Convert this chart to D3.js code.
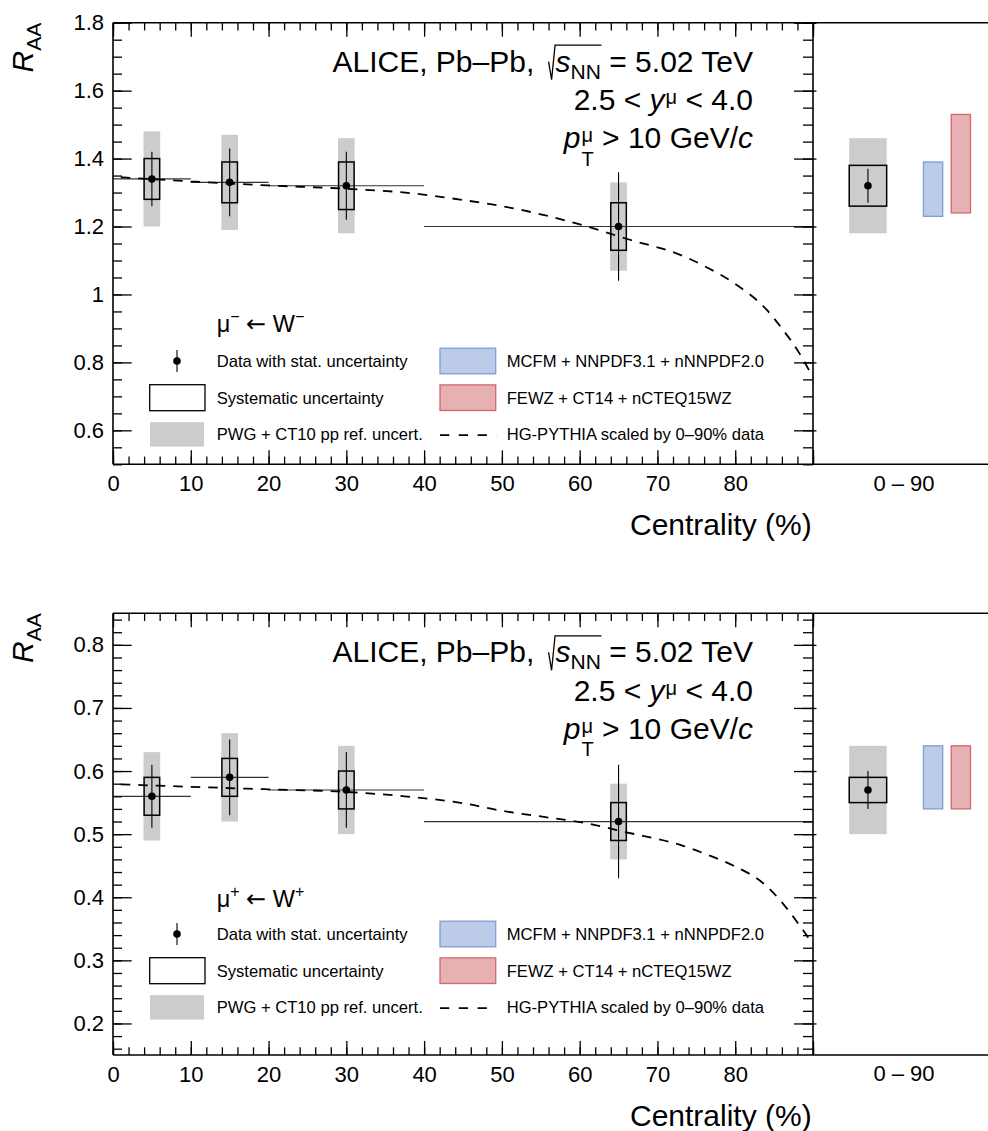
<!DOCTYPE html>
<html>
<head>
<meta charset="utf-8">
<script src="https://cdn.jsdelivr.net/npm/d3@7"></script>
<style>
  body { margin: 0; background: #fff; }
  text { white-space: pre; }
</style>
</head>
<body>
<script>
const FONT = "'Liberation Sans', Arial, Helvetica, sans-serif";

// centrality classes (%)
const centBins = [[0, 10], [10, 20], [20, 40], [40, 90]];
const centMid = [5, 15, 30, 65];

// mu- <- W-
const wmVal = [1.34, 1.33, 1.32, 1.20];
const wmStatLo = [1.26, 1.23, 1.22, 1.04];
const wmStatHi = [1.42, 1.43, 1.42, 1.36];
const wmSysLo = [1.28, 1.27, 1.25, 1.13];
const wmSysHi = [1.40, 1.39, 1.39, 1.27];
const wmRefLo = [1.20, 1.19, 1.18, 1.07];
const wmRefHi = [1.48, 1.47, 1.46, 1.33];
// 0-90% integrated: value, stat lo/hi, syst lo/hi, ref lo/hi
const wmInt = [1.32, 1.27, 1.37, 1.26, 1.38, 1.18, 1.46];
const wmMcfm = [1.23, 1.39];
const wmFewz = [1.24, 1.53];
// HG-PYTHIA curve
const hgCent = [1, 10, 20, 30, 37, 45, 50, 55, 60.5, 66, 73.3, 76.5, 79.8, 84, 86, 88.3, 90];
const wmHg = [1.345, 1.333, 1.321, 1.311, 1.301, 1.278, 1.26, 1.236, 1.203, 1.164, 1.113, 1.078, 1.034, 0.956, 0.90, 0.825, 0.755];

// mu+ <- W+
const wpVal = [0.56, 0.59, 0.57, 0.52];
const wpStatLo = [0.51, 0.53, 0.51, 0.43];
const wpStatHi = [0.61, 0.65, 0.63, 0.61];
const wpSysLo = [0.53, 0.56, 0.54, 0.49];
const wpSysHi = [0.59, 0.62, 0.60, 0.55];
const wpRefLo = [0.49, 0.52, 0.50, 0.46];
const wpRefHi = [0.63, 0.66, 0.64, 0.58];
const wpInt = [0.57, 0.54, 0.60, 0.55, 0.59, 0.50, 0.64];
const wpMcfm = [0.54, 0.64];
const wpFewz = [0.54, 0.64];
const wpHg = [0.579, 0.575, 0.571, 0.567, 0.5605, 0.549, 0.537, 0.528, 0.518, 0.503, 0.4815, 0.467, 0.45, 0.418, 0.392, 0.355, 0.325];

const xTicks = [0, 10, 20, 30, 40, 50, 60, 70, 80, 90];
const rightLabel = "0 – 90";

const panels = [
  { top: 22.7, bottom: 464.3, yDomain: [0.5, 1.8], major: [0.6, 1.8, 0.2], minor: [0.5, 1.8, 0.05],
    val: wmVal, statLo: wmStatLo, statHi: wmStatHi, sysLo: wmSysLo, sysHi: wmSysHi, refLo: wmRefLo, refHi: wmRefHi,
    int: wmInt, mcfm: wmMcfm, fewz: wmFewz, hg: wmHg, charge: "−", legHead: 331.7, legRow: 361 },
  { top: 613.3, bottom: 1055, yDomain: [0.15, 0.85], major: [0.2, 0.8, 0.1], minor: [0.16, 0.84, 0.02],
    val: wpVal, statLo: wpStatLo, statHi: wpStatHi, sysLo: wpSysLo, sysHi: wpSysHi, refLo: wpRefLo, refHi: wpRefHi,
    int: wpInt, mcfm: wpMcfm, fewz: wpFewz, hg: wpHg, charge: "+", legHead: 906.7, legRow: 934 }
];

const GREY = "#cccccc";
const BLUE_FILL = "#bccbe7", BLUE_LINE = "#7f9ed6";
const RED_FILL = "#e7b0b3", RED_LINE = "#d2676d";

function steps(lo, hi, step) {
  const n = Math.round((hi - lo) / step);
  return d3.range(n + 1).map(i => +(lo + i * step).toFixed(6));
}

const svg = d3.select("body").append("svg")
  .attr("width", 988).attr("height", 1131)
  .attr("font-family", FONT);

function styleAxis(g, size) {
  g.select(".domain").remove();
  g.selectAll(".tick line").attr("stroke", "#000").attr("stroke-width", 1.3);
  g.selectAll("text").attr("font-family", FONT).attr("font-size", size).attr("fill", "#000");
}

function drawPanel(p) {
  const x = d3.scaleLinear().domain([0, 90]).range([113, 813]);
  const y = d3.scaleLinear().domain(p.yDomain).range([p.bottom, p.top]);
  const r = d3.scaleLinear().domain([0, 1]).range([813, 988]);
  const g = svg.append("g");
  const idx = d3.range(p.val.length);

  // pp reference uncertainty (grey)
  g.selectAll(null).data(idx).join("rect")
    .attr("x", i => x(centMid[i] - 1.07))
    .attr("width", i => x(centMid[i] + 1.07) - x(centMid[i] - 1.07))
    .attr("y", i => y(p.refHi[i]))
    .attr("height", i => y(p.refLo[i]) - y(p.refHi[i]))
    .attr("fill", GREY);

  // centrality bin widths
  g.selectAll(null).data(idx).join("line")
    .attr("x1", i => x(centBins[i][0])).attr("x2", i => x(centBins[i][1]))
    .attr("y1", i => y(p.val[i])).attr("y2", i => y(p.val[i]))
    .attr("stroke", "#333").attr("stroke-width", 1.2);

  // HG-PYTHIA
  const line = d3.line().x((d, i) => x(hgCent[i])).y(d => y(d)).curve(d3.curveMonotoneX);
  g.append("path").datum(p.hg)
    .attr("d", line).attr("fill", "none")
    .attr("stroke", "#000").attr("stroke-width", 1.8).attr("stroke-dasharray", "9.5,8");

  // systematic boxes
  g.selectAll(null).data(idx).join("rect")
    .attr("x", i => x(centMid[i] - 1))
    .attr("width", i => x(centMid[i] + 1) - x(centMid[i] - 1))
    .attr("y", i => y(p.sysHi[i]))
    .attr("height", i => y(p.sysLo[i]) - y(p.sysHi[i]))
    .attr("fill", "none").attr("stroke", "#000").attr("stroke-width", 1.5);

  // stat
  g.selectAll(null).data(idx).join("line")
    .attr("x1", i => x(centMid[i])).attr("x2", i => x(centMid[i]))
    .attr("y1", i => y(p.statLo[i])).attr("y2", i => y(p.statHi[i]))
    .attr("stroke", "#000").attr("stroke-width", 1.1);
  g.selectAll(null).data(idx).join("circle")
    .attr("cx", i => x(centMid[i])).attr("cy", i => y(p.val[i]))
    .attr("r", 3.8).attr("fill", "#000");

  // integrated 0-90%
  const [iv, isl, ish, iyl, iyh, irl, irh] = p.int;
  const ic = 0.314, ihw = 0.107;
  g.append("rect").attr("x", r(ic - ihw)).attr("width", r(ic + ihw) - r(ic - ihw))
    .attr("y", y(irh)).attr("height", y(irl) - y(irh)).attr("fill", GREY);
  g.append("rect").attr("x", r(ic - ihw)).attr("width", r(ic + ihw) - r(ic - ihw))
    .attr("y", y(iyh)).attr("height", y(iyl) - y(iyh))
    .attr("fill", "none").attr("stroke", "#000").attr("stroke-width", 1.5);
  g.append("line").attr("x1", r(ic)).attr("x2", r(ic)).attr("y1", y(isl)).attr("y2", y(ish))
    .attr("stroke", "#000").attr("stroke-width", 1.1);
  g.append("circle").attr("cx", r(ic)).attr("cy", y(iv)).attr("r", 3.8).attr("fill", "#000");

  const models = [[0.686, p.mcfm, BLUE_FILL, BLUE_LINE], [0.845, p.fewz, RED_FILL, RED_LINE]];
  g.selectAll(null).data(models).join("rect")
    .attr("x", d => r(d[0] - 0.055)).attr("width", d => r(d[0] + 0.055) - r(d[0] - 0.055))
    .attr("y", d => y(d[1][1])).attr("height", d => y(d[1][0]) - y(d[1][1]))
    .attr("fill", d => d[2]).attr("stroke", d => d[3]).attr("stroke-width", 1.3);

  // axes
  const majors = steps(...p.major), minors = steps(...p.minor);
  const fmt = v => String(+v.toFixed(2));
  g.append("g").attr("transform", "translate(113,0)")
    .call(d3.axisLeft(y).tickValues(minors).tickSizeInner(-9).tickSizeOuter(0).tickFormat(""))
    .call(a => styleAxis(a, 22));
  g.append("g").attr("transform", "translate(113,0)")
    .call(d3.axisLeft(y).tickValues(majors).tickSizeInner(-18.7).tickSizeOuter(0).tickPadding(9).tickFormat(fmt))
    .call(a => styleAxis(a, 22));
  g.append("g").attr("transform", "translate(813,0)")
    .call(d3.axisRight(y).tickValues(minors).tickSizeInner(-10).tickSizeOuter(0).tickFormat(""))
    .call(a => styleAxis(a, 22));
  g.append("g").attr("transform", "translate(813,0)")
    .call(d3.axisRight(y).tickValues(majors).tickSizeInner(-19).tickSizeOuter(0).tickFormat(""))
    .call(a => styleAxis(a, 22));
  g.append("g").attr("transform", "translate(813,0)")
    .call(d3.axisRight(y).tickValues(majors).tickSizeInner(3.5).tickSizeOuter(0).tickFormat(""))
    .call(a => styleAxis(a, 22));

  const xMinor = steps(0, 90, 2);
  g.append("g").attr("transform", `translate(0,${p.bottom})`)
    .call(d3.axisBottom(x).tickValues(xMinor).tickSizeInner(-7.7).tickSizeOuter(0).tickFormat(""))
    .call(a => styleAxis(a, 22));
  g.append("g").attr("transform", `translate(0,${p.bottom})`)
    .call(d3.axisBottom(x).tickValues(xTicks).tickSizeInner(-14).tickSizeOuter(0).tickPadding(11)
      .tickFormat(d => d === 90 ? "" : d))
    .call(a => styleAxis(a, 22));
  g.append("g").attr("transform", `translate(0,${p.top})`)
    .call(d3.axisTop(x).tickValues(xMinor).tickSizeInner(-7.7).tickSizeOuter(0).tickFormat(""))
    .call(a => styleAxis(a, 22));
  g.append("g").attr("transform", `translate(0,${p.top})`)
    .call(d3.axisTop(x).tickValues(xTicks).tickSizeInner(-14).tickSizeOuter(0).tickFormat(""))
    .call(a => styleAxis(a, 22));

  // frame
  const frame = g.append("g").attr("stroke", "#000").attr("stroke-width", 1.6);
  frame.append("line").attr("x1", 113).attr("x2", 988).attr("y1", p.top).attr("y2", p.top);
  frame.append("line").attr("x1", 113).attr("x2", 988).attr("y1", p.bottom).attr("y2", p.bottom);
  frame.append("line").attr("x1", 113).attr("x2", 113).attr("y1", p.top).attr("y2", p.bottom);
  frame.append("line").attr("x1", 813).attr("x2", 813).attr("y1", p.top).attr("y2", p.bottom);

  g.append("text").attr("x", r(0.52)).attr("y", p.bottom + 26.4)
    .attr("text-anchor", "middle").attr("font-size", 22).text(rightLabel);

  // axis titles
  g.append("text").attr("x", 811.7).attr("y", p.bottom + 71)
    .attr("text-anchor", "end").attr("font-size", 30).text("Centrality (%)");
  const yt = g.append("text").attr("transform", `translate(33,${p.top}) rotate(-90)`)
    .attr("text-anchor", "end").attr("font-size", 30);
  yt.append("tspan").attr("font-style", "italic").text("R");
  yt.append("tspan").attr("font-size", 21).attr("dy", 8).text("AA");

  // info text
  const b1 = p.top + 49, b2 = p.top + 87.3, b3 = p.top + 125.6;
  const t1 = g.append("text").attr("x", 753).attr("y", b1).attr("text-anchor", "end").attr("font-size", 30);
  t1.append("tspan").text("ALICE, Pb–Pb, ");
  t1.append("tspan").attr("dx", 13).attr("font-style", "italic").text("s");
  t1.append("tspan").attr("dy", 7).attr("font-size", 21).text("NN");
  t1.append("tspan").attr("dy", -7).text(" = 5.02 TeV");
  const n1 = t1.node();
  const sBox = n1.getExtentOfChar(14), nBox = n1.getExtentOfChar(16);
  g.append("path")
    .attr("d", `M${sBox.x - 7},${b1 - 10} L${sBox.x - 4},${b1 + 8} L${sBox.x - 0.5},${b1 - 26.5} H${nBox.x + nBox.width + 0.5}`)
    .attr("fill", "none").attr("stroke", "#000").attr("stroke-width", 1.3);

  const t2 = g.append("text").attr("x", 753).attr("y", b2).attr("text-anchor", "end").attr("font-size", 30);
  t2.append("tspan").text("2.5 < ");
  t2.append("tspan").attr("font-style", "italic").text("y");
  t2.append("tspan").attr("font-size", 20).attr("dy", -6).attr("dx", 1).text("μ");
  t2.append("tspan").attr("dy", 6).text(" < 4.0");

  const t3 = g.append("text").attr("x", 753).attr("y", b3).attr("text-anchor", "end").attr("font-size", 30);
  t3.append("tspan").attr("font-style", "italic").text("p");
  t3.append("tspan").attr("font-size", 20).attr("dy", -6).attr("dx", 1).text("μ");
  const tT = t3.append("tspan").attr("font-size", 20).attr("dy", 23.4).text("T");
  t3.append("tspan").attr("dy", -17.4).text(" > 10 GeV/");
  t3.append("tspan").attr("font-style", "italic").text("c");
  const muW = t3.node().getSubStringLength(1, 1);
  tT.attr("dx", -muW);

  // legend
  const lh = g.append("text").attr("x", 216.7).attr("y", p.legHead).attr("font-size", 23.5);
  lh.append("tspan").text("μ");
  lh.append("tspan").attr("font-size", 16).attr("dy", -10).text(p.charge);
  lh.append("tspan").attr("dy", 10).text(" ");
  lh.append("tspan").attr("font-family", "'DejaVu Sans', sans-serif").attr("font-size", 24).text("←");
  lh.append("tspan").text(" W");
  lh.append("tspan").attr("font-size", 16).attr("dy", -10).text(p.charge);

  const rows = [p.legRow, p.legRow + 36.7, p.legRow + 73.4];
  const leg = g.append("g").attr("font-size", 16.6);
  const labels1 = ["Data with stat. uncertainty", "Systematic uncertainty", "PWG + CT10 pp ref. uncert."];
  const labels2 = ["MCFM + NNPDF3.1 + nNNPDF2.0", "FEWZ + CT14 + nCTEQ15WZ", "HG-PYTHIA scaled by 0–90% data"];
  leg.selectAll(null).data(labels1).join("text")
    .attr("x", 216.7).attr("y", (d, i) => rows[i] + 6).text(d => d);
  leg.selectAll(null).data(labels2).join("text")
    .attr("x", 506.7).attr("y", (d, i) => rows[i] + 6).text(d => d);

  leg.append("line").attr("x1", 177).attr("x2", 177).attr("y1", rows[0] - 11).attr("y2", rows[0] + 11)
    .attr("stroke", "#000").attr("stroke-width", 1.1);
  leg.append("circle").attr("cx", 177).attr("cy", rows[0]).attr("r", 3.8).attr("fill", "#000");
  leg.append("rect").attr("x", 149.7).attr("y", rows[1] - 13).attr("width", 55.3).attr("height", 26)
    .attr("fill", "#fff").attr("stroke", "#000").attr("stroke-width", 1.3);
  leg.append("rect").attr("x", 150).attr("y", rows[2] - 12.2).attr("width", 54).attr("height", 24.4)
    .attr("fill", GREY);
  leg.append("rect").attr("x", 440).attr("y", rows[0] - 12.8).attr("width", 55.7).attr("height", 25.6)
    .attr("fill", BLUE_FILL).attr("stroke", BLUE_LINE).attr("stroke-width", 1.3);
  leg.append("rect").attr("x", 440).attr("y", rows[1] - 12.8).attr("width", 55.7).attr("height", 25.6)
    .attr("fill", RED_FILL).attr("stroke", RED_LINE).attr("stroke-width", 1.3);
  leg.append("line").attr("x1", 440).attr("x2", 496.5).attr("y1", rows[2] + 0.7).attr("y2", rows[2] + 0.7)
    .attr("stroke", "#000").attr("stroke-width", 1.8).attr("stroke-dasharray", "9.3,9.5");
}

panels.forEach(drawPanel);
</script>
</body>
</html>
